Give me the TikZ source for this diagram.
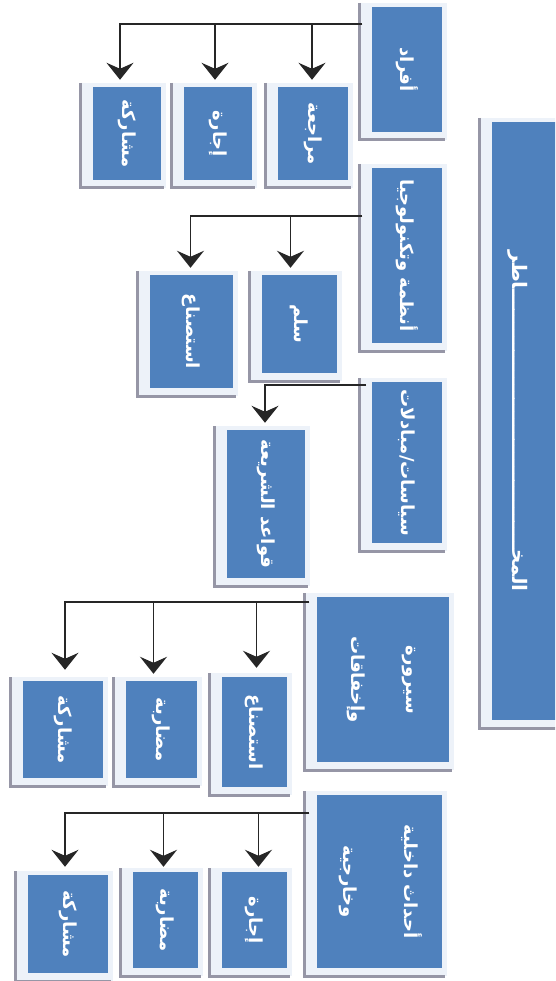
\documentclass[tikz,border=0pt]{standalone}
\usepackage{fontspec}
\usepackage{graphicx}
\usetikzlibrary{arrows.meta}
\TeXXeTstate=1
\newfontfamily\ar[Script=Arabic]{DejaVu Sans}
\definecolor{boxblue}{RGB}{79,129,189}
\definecolor{halo}{RGB}{237,242,249}
\definecolor{frameg}{RGB}{150,150,166}
\newcommand\rtl[1]{\beginR #1\endR}
\tikzset{
  bluebox/.style={fill=boxblue, draw=none, inner sep=0pt, text=white,
    font=\ar\bfseries\fontsize{18}{21}\selectfont},
  halofill/.style={fill=halo},
  frameline/.style={draw=frameg, line width=3pt},
  conn/.style={draw=black!85, line width=1.8pt},
  arr/.style={conn, -{Stealth[length=17pt, width=27pt, inset=6pt]}},
}
% #1 name, #2 x1, #3 y1, #4 x2, #5 y2, #6 text
\newcommand\rbx[6]{%
  \fill[halofill] ({#2-13},{#3-4}) rectangle ({#4+5},{#5+8});
  \draw[frameline] ({#2-13},{#3-4}) -- ({#2-13},{#5+8}) -- ({#4+3},{#5+8});
  \node[bluebox, minimum width={(#4-#2)*1pt}, minimum height={(#5-#3)*1pt}]
    (#1) at ({(#2+#4)/2},{(#3+#5)/2}) {\rotatebox{-90}{#6}};
}
\begin{document}
\begin{tikzpicture}[x=1pt,y=-1pt]
\useasboundingbox (0,0) rectangle (555,981);
\clip (0,0) rectangle (555,981);
\fill[white] (0,0) rectangle (555,981);

% main box
\rbx{P0}{492}{122}{610}{720}{}
\node[bluebox, font=\ar\bfseries\fontsize{20}{24}\selectfont, rotate=-90] (P0t) at (518,421)
  {\rtl{المخــــــــــــــــــــــــــــــــــــــاطر}};

% row 1
\rbx{P1}{372}{7}{442}{132}{\rtl{أفراد}}
\rbx{c11}{278}{87}{348}{180}{\rtl{مراجعة}}
\rbx{c12}{184}{87}{252}{180}{\rtl{إجارة}}
\rbx{c13}{93}{87}{161}{180}{\rtl{مشاركة}}
\coordinate (j1) at (362,24);
\draw[arr] (j1) -| ([xshift=-7pt,yshift=7pt]c13.north);
\draw[arr] (j1) -| ([xshift=-3pt,yshift=7pt]c12.north);
\draw[arr] (j1) -| ([xshift=-1pt,yshift=7pt]c11.north);

% row 2
\rbx{P2}{372}{168}{442}{343}{\rtl{أنظمة وتكنولوجيا}}
\rbx{c21}{262}{275}{337}{373}{\rtl{سلم}}
\rbx{c22}{150}{275}{233}{388}{\rtl{استصناع}}
\coordinate (j2) at (362,216);
\draw[arr] (j2) -| ([xshift=-1pt,yshift=7pt]c22.north);
\draw[arr] (j2) -| ([xshift=-9pt,yshift=7pt]c21.north);

% row 3
\rbx{P3}{372}{382}{442}{543}{\rtl{سياسات/مبادلات}}
\rbx{c31}{227}{430}{305}{578}{\rtl{قواعد الشريعة}}
\coordinate (j3) at (366,385);
\draw[arr] (j3) -| ([xshift=-1pt,yshift=7pt]c31.north);

% row 4
\rbx{P4}{317}{597}{449}{762}{\begin{tabular}{@{}c@{}}\rtl{سيرورة}\\[34pt]\rtl{وإخفاقات}\end{tabular}}
\rbx{c41}{222}{677}{287}{787}{\rtl{استصناع}}
\rbx{c42}{126}{681}{197}{778}{\rtl{مضاربة}}
\rbx{c43}{23}{681}{103}{778}{\rtl{مشاركة}}
\coordinate (j4) at (309,602);
\draw[arr] (j4) -| ([xshift=2pt,yshift=11pt]c43.north);
\draw[arr] (j4) -| ([xshift=-8pt,yshift=7pt]c42.north);
\draw[arr] (j4) -| ([xshift=2pt,yshift=9pt]c41.north);

% row 5
\rbx{P5}{317}{795}{442}{968}{\begin{tabular}{@{}c@{}}\rtl{أحداث داخلية}\\[40pt]\rtl{وخارجية}\end{tabular}}
\rbx{c51}{222}{872}{287}{968}{\rtl{إجارة}}
\rbx{c52}{133}{872}{198}{968}{\rtl{مضاربة}}
\rbx{c53}{28}{875}{108}{973}{\rtl{مشاركة}}
\coordinate (j5) at (309,813);
\draw[arr] (j5) -| ([xshift=-3pt,yshift=8pt]c53.north);
\draw[arr] (j5) -| ([xshift=-2pt,yshift=5pt]c52.north);
\draw[arr] (j5) -| ([xshift=4pt,yshift=5pt]c51.north);
\end{tikzpicture}
\end{document}
